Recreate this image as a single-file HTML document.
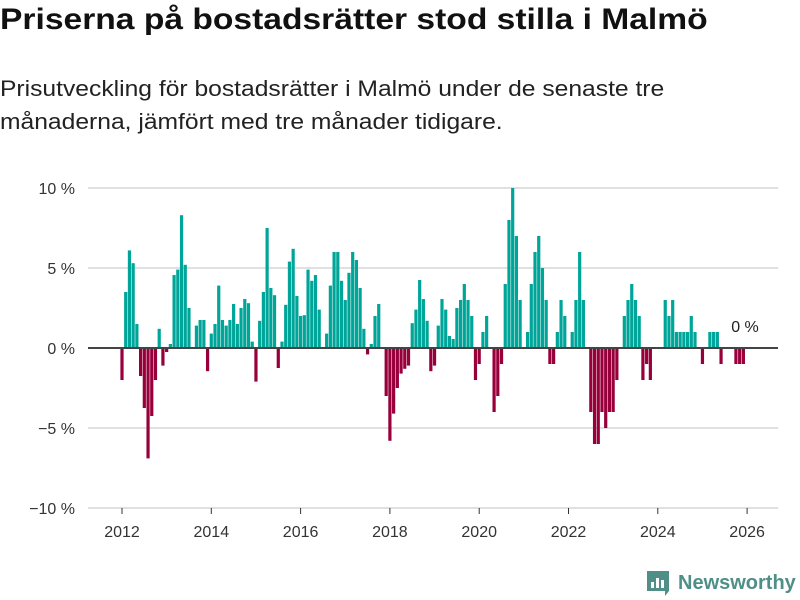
<!DOCTYPE html>
<html><head><meta charset="utf-8">
<style>
body{margin:0;width:800px;height:600px;background:#fff;font-family:"Liberation Sans",sans-serif;overflow:hidden;position:relative}
h1{position:absolute;left:0;top:3px;margin:0;font-size:30px;font-weight:bold;color:#111;white-space:nowrap;transform:scaleX(1.12);transform-origin:0 0}
.sub{position:absolute;left:0;top:72px;margin:0;font-size:22px;line-height:33px;color:#222;white-space:nowrap;transform:scaleX(1.12);transform-origin:0 0}
svg{position:absolute;left:0;top:0}
.logo{position:absolute;left:645px;top:570px;display:flex;align-items:center}
.logo span{font-size:20px;font-weight:bold;color:#4f8f88;margin-left:7px}
</style></head><body>
<h1>Priserna på bostadsrätter stod stilla i Malmö</h1>
<p class="sub">Prisutveckling för bostadsrätter i Malmö under de senaste tre<br>månaderna, jämfört med tre månader tidigare.</p>
<svg id="chart" width="800" height="600"></svg>
<div class="logo">
<svg width="26" height="27" style="position:static"><path d="M2 1h22v20l-4 5v-5H2z" fill="#4f8f88"/><rect x="6" y="12" width="3" height="6" fill="#fff"/><rect x="11" y="8" width="3" height="10" fill="#fff"/><rect x="16" y="10" width="3" height="8" fill="#fff"/></svg>
<span>Newsworthy</span></div>
<script>
const startYear = 2012;
const values = [-2,3.5,6.1,5.3,1.5,-1.75,-3.75,-6.9,-4.25,-2,1.2,-1.1,-0.25,0.25,4.56,4.9,8.3,5.2,2.5,0,1.4,1.75,1.75,-1.45,0.9,1.5,3.9,1.75,1.4,1.75,2.75,1.5,2.5,3.06,2.8,0.4,-2.1,1.7,3.5,7.5,3.75,3.3,
-1.25,0.4,2.7,5.4,6.2,3.25,2.0,2.05,4.9,4.2,4.56,2.4,0,0.9,3.9,6.0,6.0,4.2,3.0,4.7,6.0,5.5,3.75,1.2,-0.4,0.25,2.0,2.75,0,-3.0,-5.8,-4.1,-2.5,-1.6,-1.3,-1.1,
1.55,2.4,4.25,3.06,1.7,-1.45,-1.1,
1.4,3.06,2.4,0.75,0.56,2.5,3.0,4.0,3.0,2.0,-2,-1,1,2,0,-4,-3,-1,4,8,10,7,3,0,1,4,6,7,5,3,-1,-1,1,3,2,0,1,3,6,3,0,-4,-6,-6,-4,
-5,-4,-4,-2,0,2,3,4,3,2,-2,-1,-2,0,0,0,3,2,3,1,1,1,1,2,1,0,-1,0,1,1,1,-1,0,0,0,-1,-1,-1];
const yTicks = [10,5,0,-5,-10];
const yTickLabels = ["10 %","5 %","0 %","\u22125 %","\u221210 %"];
const xTicks = [2012,2014,2016,2018,2020,2022,2024,2026];
const lastLabel = "0 %";

const svg = document.getElementById('chart');
const NS = 'http://www.w3.org/2000/svg';
const x0 = 122, pxYear = 44.65;
const xScale = t => x0 + (t - startYear) * pxYear;
const yScale = v => 348 - v * 16;
function mk(tag, attrs){const e=document.createElementNS(NS,tag);for(const k in attrs)e.setAttribute(k,attrs[k]);svg.appendChild(e);return e;}
yTicks.forEach((t,i)=>{
  if(t!==0){const g=mk('line',{x1:88,x2:778,y1:yScale(t),y2:yScale(t),stroke:'#e0e0e0','stroke-width':2});
  
  }
  const l=mk('text',{x:75,y:yScale(t)+6,'text-anchor':'end','font-size':16,fill:'#333','font-family':'Liberation Sans, sans-serif'});
  l.textContent=yTickLabels[i];
  
  
});
xTicks.forEach(t=>{
  const x=xScale(t);
  const tk=mk('line',{x1:x,x2:x,y1:508,y2:514,stroke:'#333','stroke-width':1});
  
  
  const l=mk('text',{x:x,y:537,'text-anchor':'middle','font-size':16,fill:'#333','font-family':'Liberation Sans, sans-serif'});
  l.textContent=t;
  
  
});
const bw = pxYear/12*0.86;
values.forEach((v,i)=>{
  if(v===0) return;
  const x=xScale(startYear+i/12);
  const y=v>0?yScale(v):yScale(0);
  const r=mk('rect',{x:x-bw/2,y:y,width:bw,height:Math.abs(yScale(v)-yScale(0)),fill:v>0?'#00a599':'#98003c'});
  
  
});
const z=mk('line',{x1:88,x2:778,y1:yScale(0),y2:yScale(0),stroke:'#444','stroke-width':2});


const ll=mk('text',{x:745,y:332,'text-anchor':'middle','font-size':16,fill:'#222','font-family':'Liberation Sans, sans-serif'});
ll.textContent=lastLabel;


</script>
</body></html>
